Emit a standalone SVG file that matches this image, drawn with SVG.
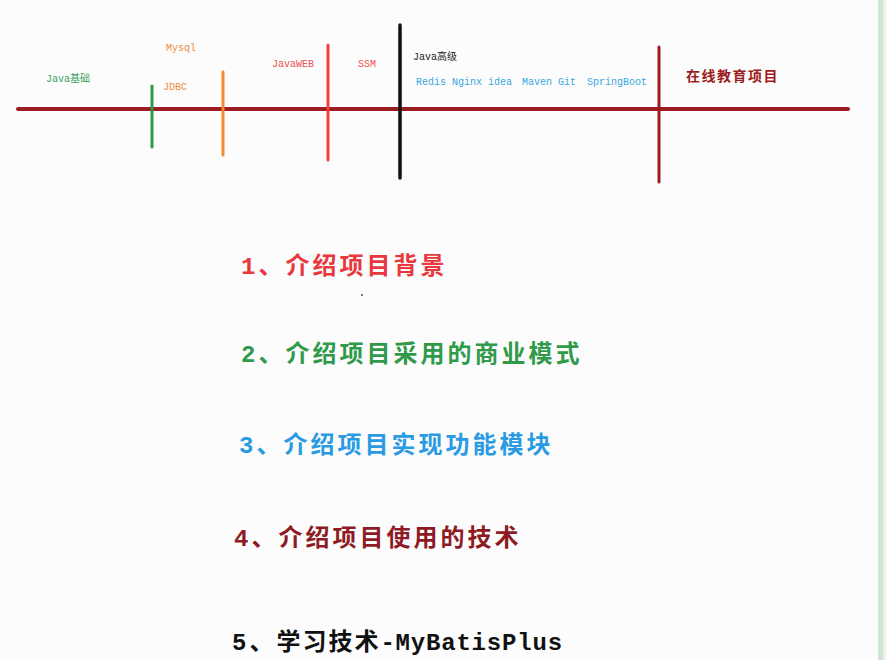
<svg xmlns="http://www.w3.org/2000/svg" width="886" height="660" viewBox="0 0 886 660">
<style>
.sm{font-family:"Liberation Mono","Noto Sans CJK SC",monospace;font-size:10px}
.big{font-family:"Liberation Mono","Noto Sans CJK SC",monospace;font-size:24px;font-weight:bold;letter-spacing:3px}
.ln{stroke-linecap:round;fill:none}
</style>
<rect x="0" y="0" width="886" height="660" fill="#fcfcfc"/>
<rect x="878" y="0" width="5" height="660" fill="#cde6cf"/>
<rect x="883" y="0" width="3" height="660" fill="#eeeeee"/>
<g id="connectors">
<line class="ln" x1="18" y1="109" x2="848" y2="109" stroke="#9b1c22" stroke-width="4"/>
<line class="ln" x1="152" y1="86" x2="152" y2="147" stroke="#2e9a48" stroke-width="3"/>
<line class="ln" x1="223" y1="72" x2="223" y2="155" stroke="#f68a2c" stroke-width="3"/>
<line class="ln" x1="328" y1="45" x2="328" y2="160" stroke="#f0403a" stroke-width="3"/>
<line class="ln" x1="400" y1="25" x2="400" y2="178" stroke="#111111" stroke-width="3.5"/>
<line class="ln" x1="659" y1="47" x2="659" y2="182" stroke="#9b1c22" stroke-width="3"/>
</g>
<g id="java-basic"><text class="sm" x="46" y="82" fill="#3aa060">Java基础</text></g>
<g id="mysql"><text class="sm" x="166" y="51" fill="#f08a3a" font-size="9.5">Mysql</text></g>
<g id="jdbc"><text class="sm" x="163" y="90" fill="#f08a3a" font-size="9.5">JDBC</text></g>
<g id="javaweb"><text class="sm" x="272" y="67" fill="#ee5050" font-size="9.5">JavaWEB</text></g>
<g id="ssm"><text class="sm" x="358" y="67" fill="#ee5050" font-size="9.5">SSM</text></g>
<g id="java-adv"><text class="sm" x="413" y="60" fill="#222222">Java高级</text></g>
<g id="adv-tools">
<text class="sm" x="416" y="85" fill="#3aa6e0" font-size="9.7">Redis Nginx idea</text>
<text class="sm" x="522" y="85" fill="#3aa6e0" font-size="9.7">Maven Git</text>
<text class="sm" x="587" y="85" fill="#3aa6e0" font-size="9.7">SpringBoot</text>
</g>
<g id="project"><text x="686" y="81" fill="#9b1c22" font-family="'Noto Sans CJK SC',sans-serif" font-size="14" font-weight="bold" letter-spacing="1.5">在线教育项目</text></g>
<g id="item1"><text class="big" x="241" y="274" fill="#e8383d" letter-spacing="3.4">1、介绍项目背景</text></g>
<circle cx="362" cy="295" r="1" fill="#555"/>
<g id="item2"><text class="big" x="241" y="362" fill="#2e9a4a" letter-spacing="3.2">2、介绍项目采用的商业模式</text></g>
<g id="item3"><text class="big" x="239" y="453" fill="#2a9be2">3、介绍项目实现功能模块</text></g>
<g id="item4"><text class="big" x="234" y="546" fill="#8e1b24">4、介绍项目使用的技术</text></g>
<g id="item5"><text class="big" x="232" y="650" fill="#111111"><tspan letter-spacing="3">5、</tspan><tspan letter-spacing="2">学习技术</tspan><tspan letter-spacing="0.8">-MyBatisPlus</tspan></text></g>
</svg>
